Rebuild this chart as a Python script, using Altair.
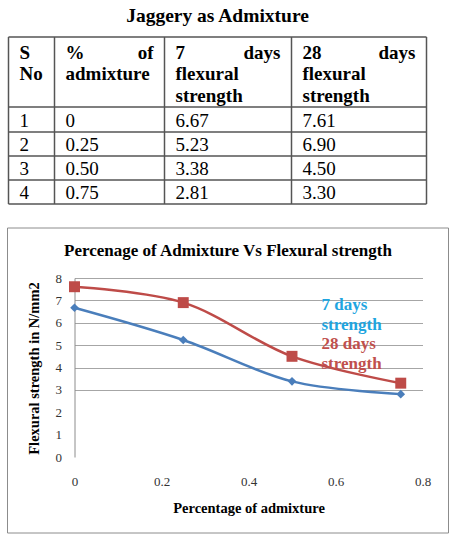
import altair as alt
import pandas as pd

# ---- data: flexural strength with jaggery as admixture ----
sno = [1, 2, 3, 4]
admixture = [0, 0.25, 0.50, 0.75]
strength_7 = [6.67, 5.23, 3.38, 2.81]
strength_28 = [7.61, 6.90, 4.50, 3.30]

table_title = "Jaggery as Admixture"
header_lines = [
    ["S", "No"],
    ["% of", "admixture"],
    ["7 days", "flexural", "strength"],
    ["28 days", "flexural", "strength"],
]

chart_title = "Percenage of Admixture Vs Flexural strength"
x_title = "Percentage of admixture"
y_title = "Flexural strength in N/mm2"
series_names = ["7 days strength", "28 days strength"]
legend_lines = [["7 days", "strength"], ["28 days", "strength"]]
x_ticks = [0, 0.2, 0.4, 0.6, 0.8]
y_ticks = [0, 1, 2, 3, 4, 5, 6, 7, 8]

# ---- styling / layout ----
SERIF = "Liberation Serif"
BLUE, RED = "#4a7ebb", "#be4b48"
BLUE_TXT, RED_TXT = "#1fa5e0", "#c0504d"

PLOT_W, PLOT_H = 348, 179
COL_W = [46, 110, 127, 135]          # table column widths
ROW_H = [70, 25, 24, 24, 24]         # header row + body rows
PAD = 11                             # cell text inset
HEAD_BASE, HEAD_PITCH = 21.5, 21.7   # header line baselines
TABLE_FS = 19
TITLE_GAP = 15                       # table title baseline above the table
TABLE_X0, TABLE_Y0 = -66, -241       # table's top-left corner, relative to the plot area
GRID_FROM = 3                        # horizontal gridlines drawn from this value up

col_edges = [0]
for w in COL_W:
    col_edges.append(col_edges[-1] + w)
row_edges = [0]
for h in ROW_H:
    row_edges.append(row_edges[-1] + h)
TW, TH = col_edges[-1], row_edges[-1]


def fmt_adm(v):
    return "0" if v == 0 else f"{v:.2f}"


# ---- table (placed above the plot with its own scales) ----
vlines = pd.DataFrame({"x": col_edges, "y": 0, "y2": TH})
hlines = pd.DataFrame({"y": row_edges, "x": 0, "x2": TW})

head_left, head_right = [], []
for c, lines in enumerate(header_lines):
    for j, line in enumerate(lines):
        y = HEAD_BASE + j * HEAD_PITCH
        words = line.split(" ")
        if j < len(lines) - 1 and len(words) > 1:
            head_left.append({"x": col_edges[c] + PAD, "y": y, "t": words[0]})
            head_right.append({"x": col_edges[c + 1] - PAD, "y": y, "t": words[-1]})
        else:
            head_left.append({"x": col_edges[c] + PAD, "y": y, "t": line})

body = []
for i in range(len(sno)):
    cells = [str(sno[i]), fmt_adm(admixture[i]), f"{strength_7[i]:.2f}", f"{strength_28[i]:.2f}"]
    for c, t in enumerate(cells):
        body.append({"x": col_edges[c] + PAD, "y": row_edges[i + 2] - 5, "t": t})

tx = alt.Scale(domain=[0, TW], range=[TABLE_X0, TABLE_X0 + TW], nice=False, zero=False)
ty = alt.Scale(domain=[0, TH], range=[TABLE_Y0, TABLE_Y0 + TH], nice=False, zero=False)


def txy(chart):
    return chart.encode(x=alt.X("x:Q", scale=tx, axis=None), y=alt.Y("y:Q", scale=ty, axis=None))


rule_style = dict(color="#555555", strokeWidth=1.5)
v_rules = txy(alt.Chart(vlines).mark_rule(**rule_style)).encode(y2="y2:Q")
h_rules = txy(alt.Chart(hlines).mark_rule(**rule_style)).encode(x2="x2:Q")

txt = dict(font=SERIF, fontSize=TABLE_FS, color="black", baseline="alphabetic")
t_head_l = txy(alt.Chart(pd.DataFrame(head_left)).mark_text(align="left", fontWeight="bold", **txt)).encode(text="t:N")
t_head_r = txy(alt.Chart(pd.DataFrame(head_right)).mark_text(align="right", fontWeight="bold", **txt)).encode(text="t:N")
t_body = txy(alt.Chart(pd.DataFrame(body)).mark_text(align="left", **txt)).encode(text="t:N")
t_title = txy(alt.Chart(pd.DataFrame([{"x": TW / 2, "y": -TITLE_GAP, "t": table_title}])).mark_text(
    font=SERIF, fontSize=19.5, fontWeight="bold", color="black", baseline="alphabetic", align="center"
)).encode(text="t:N")

table = alt.layer(v_rules, h_rules, t_head_l, t_head_r, t_body, t_title)

# ---- line chart ----
df = pd.DataFrame({
    "admixture": admixture + admixture,
    "strength": strength_7 + strength_28,
    "series": [series_names[0]] * len(admixture) + [series_names[1]] * len(admixture),
})

xs = alt.Scale(domain=[0, 0.8], nice=False)
ys = alt.Scale(domain=[0, 8], nice=False)
x_enc = alt.X(
    "admixture:Q", scale=xs,
    axis=alt.Axis(
        orient="bottom", values=x_ticks, labelExpr="datum.value == 0 ? '0' : format(datum.value, '.1f')",
        grid=False, domain=False, ticks=False, tickSize=0, labelFlush=False, labelOverlap=False,
        labelPadding=28, labelBaseline="alphabetic", labelFont=SERIF, labelFontSize=13,
        labelColor="#333333", title=x_title, titleFont=SERIF, titleFontSize=14.5,
        titleFontWeight="bold", titleColor="black", titleY=55, titleBaseline="alphabetic",
    ),
)
y_enc = alt.Y(
    "strength:Q", scale=ys,
    axis=alt.Axis(
        orient="left", values=y_ticks, format="d", grid=True, gridColor="#a6a6a6",
        gridOpacity={"condition": {"test": f"datum.value < {GRID_FROM}", "value": 0}, "value": 1},
        domain=True, domainColor="#8c8c8c", ticks=False, tickSize=0, labelFlush=False,
        labelOverlap=False, labelPadding=13, labelFont=SERIF, labelFontSize=13, labelColor="#333333",
        title=y_title, titleFont=SERIF, titleFontSize=14.5, titleFontWeight="bold",
        titleColor="black", titleX=-36, titleY=90, titleAngle=270, titleBaseline="alphabetic",
    ),
)
color = alt.Color("series:N", scale=alt.Scale(domain=series_names, range=[BLUE, RED]), legend=None)

frame = alt.Chart(pd.DataFrame({"f": [0]})).mark_rect(
    fillOpacity=0, stroke="#8c8c8c", strokeWidth=1
).encode(x=alt.value(-67), x2=alt.value(374), y=alt.value(-50), y2=alt.value(255))

lines = alt.Chart(df).mark_line(interpolate="catmull-rom", strokeWidth=2.5).encode(
    x=x_enc, y=y_enc, color=color, detail="series:N")

points = alt.Chart(df).mark_point(filled=True, opacity=1).encode(
    x=x_enc, y=y_enc, color=color,
    shape=alt.Shape("series:N", scale=alt.Scale(domain=series_names, range=["diamond", "square"]), legend=None),
    size=alt.Size("series:N", scale=alt.Scale(domain=series_names, range=[75, 120]), legend=None),
)

title_mark = alt.Chart(pd.DataFrame({"t": [chart_title]})).mark_text(
    font=SERIF, fontSize=17, fontWeight="bold", color="black", align="center", baseline="alphabetic"
).encode(x=alt.value(153.5), y=alt.value(-22), text="t:N")

leg_style = dict(font=SERIF, fontSize=17, fontWeight="bold", align="left", baseline="alphabetic",
                 lineBreak="\n", lineHeight=19.5)
leg_7 = alt.Chart(pd.DataFrame({"t": ["\n".join(legend_lines[0])]})).mark_text(color=BLUE_TXT, **leg_style).encode(
    x=alt.value(247), y=alt.value(32), text="t:N")
leg_28 = alt.Chart(pd.DataFrame({"t": ["\n".join(legend_lines[1])]})).mark_text(color=RED_TXT, **leg_style).encode(
    x=alt.value(247), y=alt.value(71), text="t:N")

plot = alt.layer(frame, lines, points, title_mark, leg_7, leg_28)

chart = alt.layer(plot, table).resolve_scale(x="independent", y="independent").properties(
    width=PLOT_W, height=PLOT_H,
    padding={"left": 6.5, "top": 6, "right": 0, "bottom": 0},
    background="white",
).configure_view(strokeWidth=0)

chart.save("out.html", embed_options={"renderer": "svg", "actions": False})
